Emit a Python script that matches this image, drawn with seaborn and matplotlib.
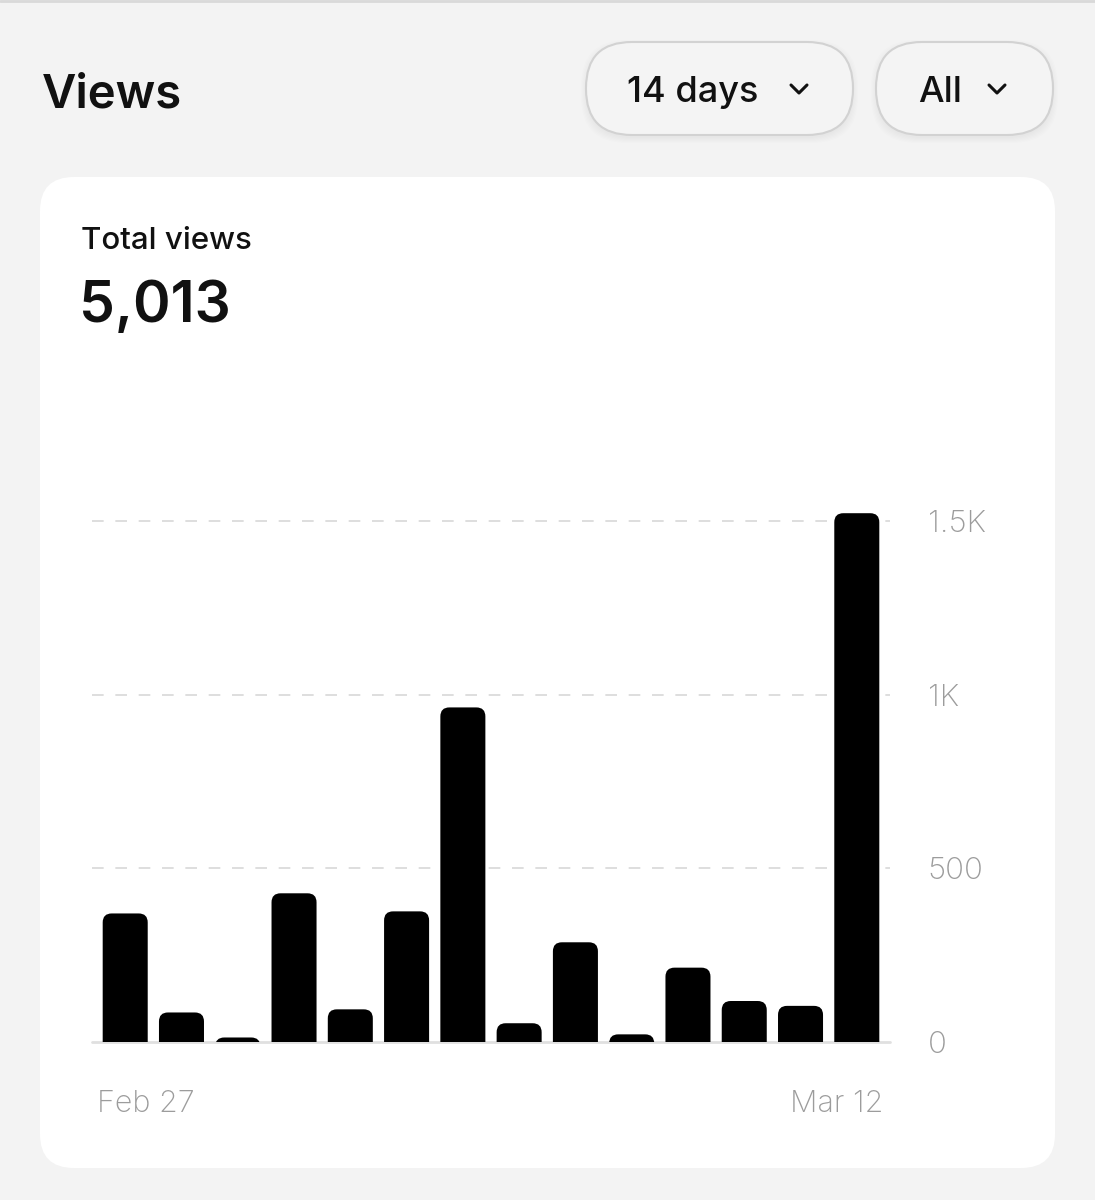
import matplotlib
matplotlib.use("Agg")
import matplotlib.pyplot as plt
import seaborn as sns
from matplotlib.patches import FancyBboxPatch

# data
days = ["Feb 27", "Feb 28", "Mar 1", "Mar 2", "Mar 3", "Mar 4", "Mar 5",
        "Mar 6", "Mar 7", "Mar 8", "Mar 9", "Mar 10", "Mar 11", "Mar 12"]
views = [370, 85, 13, 428, 94, 376, 963, 54, 287, 22, 214, 118, 104, 1522]
y_ticks = [0, 500, 1000, 1500]
y_tick_labels = ["0", "500", "1K", "1.5K"]
total_label = "5,013"

sns.set_theme(style="white")
plt.rcParams["font.family"] = ["Inter", "DejaVu Sans"]

W, H = 1095, 1200
fig = plt.figure(figsize=(W / 100, H / 100), dpi=100, facecolor="#f3f3f3")

# background layer in pixel coords (y down)
bg = fig.add_axes([0, 0, 1, 1])
bg.set_xlim(0, W)
bg.set_ylim(H, 0)
bg.axis("off")
bg.set_facecolor("#f3f3f3")

bg.plot([0, W], [1, 1], color="#d9d9d9", lw=2)

# white card
bg.add_patch(FancyBboxPatch((40, 177), 1015, 991,
                            boxstyle="round,pad=0,rounding_size=34",
                            fc="white", ec="none"))

# title + pill buttons
bg.text(42, 107, "Views", fontsize=34, fontweight="semibold",
        color="#111111", va="baseline")

for x0, x1, label, tx, cx in [(586, 853, "14 days", 627, 799),
                              (876, 1053, "All", 918, 997)]:
    for k in range(6):
        bg.add_patch(FancyBboxPatch((x0 - k, 42 + 3 - k), x1 - x0 + 2 * k, 93 + 2 * k,
                                    boxstyle="round,pad=0,rounding_size=46",
                                    fc="#000000", ec="none", alpha=0.006))
    bg.add_patch(FancyBboxPatch((x0, 42), x1 - x0, 93,
                                boxstyle="round,pad=0,rounding_size=46",
                                fc="#f4f4f4", ec="#d2d2d2", lw=1.5))
    bg.text(tx, 102, label, fontsize=26, fontweight="medium",
            color="#111111", va="baseline")
    bg.plot([cx - 8, cx, cx + 8], [85, 93, 85], color="#111111", lw=2.2,
            solid_capstyle="round", solid_joinstyle="round")

bg.text(81, 249, "Total views", fontsize=22.5, fontweight="medium",
        color="#111111", va="baseline")
bg.text(79, 322, total_label, fontsize=41, fontweight="semibold",
        color="#111111", va="baseline")

# bar chart
ax = fig.add_axes([92 / W, 1 - 1042 / H, 798 / W, 542 / H])
ax.patch.set_alpha(0)
sns.barplot(x=days, y=views, color="black", width=0.8, ax=ax, zorder=3)
ax.set_xlim(-0.59, 13.59)
ax.set_ylim(0, 1560)

# rounded tops
px_x = 798 / 14.18
px_y = 542 / 1560
r = 9 / px_x
aspect = px_x / px_y
for p in list(ax.patches):
    x, w, h = p.get_x(), p.get_width(), p.get_height()
    p.remove()
    ext = 30 / px_y
    ax.add_patch(FancyBboxPatch((x, -ext), w, h + ext,
                                boxstyle=f"round,pad=0,rounding_size={r}",
                                mutation_aspect=aspect,
                                fc="black", ec="none", zorder=3))

for v in y_ticks[1:]:
    ax.axhline(v, color="#dedede", lw=1.4, dashes=(6, 6), zorder=1)
ax.axhline(0, color="#e0e0e0", lw=2, zorder=2, clip_on=False)

sns.despine(ax=ax, left=True, bottom=True)
ax.yaxis.tick_right()
ax.set_yticks(y_ticks)
ax.set_yticklabels(y_tick_labels, fontsize=22.5, color="#9c9c9c", fontweight="light")
ax.tick_params(axis="y", length=0, pad=27)
ax.set_xticks([])
ax.set_xlabel("")
ax.grid(False)

ax.text(0.006, -0.115, days[0], transform=ax.transAxes, fontsize=22,
        color="#9c9c9c", fontweight="light", ha="left", va="center")
ax.text(0.992, -0.115, days[-1], transform=ax.transAxes, fontsize=22,
        color="#9c9c9c", fontweight="light", ha="right", va="center")

fig.savefig("out.png", dpi=100, facecolor=fig.get_facecolor())
